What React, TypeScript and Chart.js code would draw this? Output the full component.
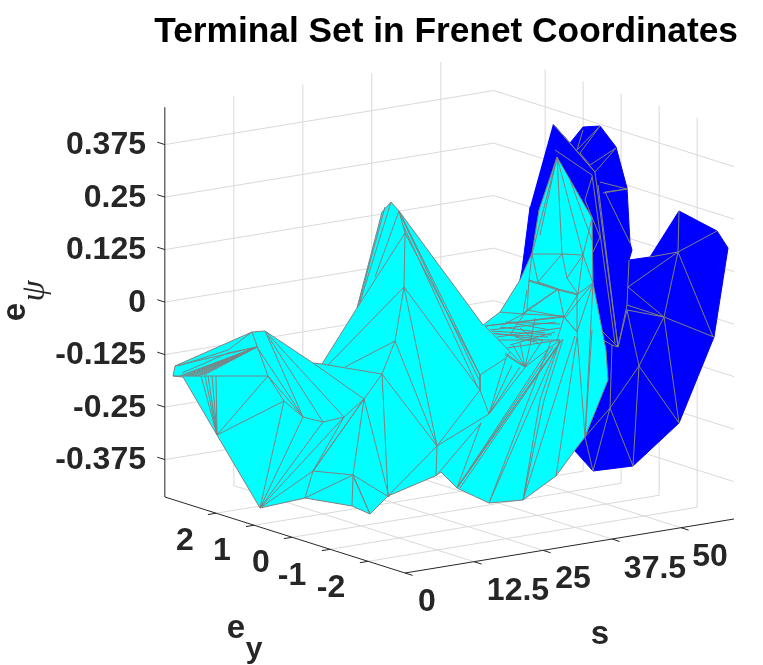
import React, { useEffect, useRef } from "react";
import { Chart, registerables } from "chart.js";

Chart.register(...registerables);

const TITLE = "Terminal Set in Frenet Coordinates";
const PSI_TICKS = [-0.375, -0.25, -0.125, 0, 0.125, 0.25, 0.375];
const S_TICKS = [0, 12.5, 25, 37.5, 50];
const EY_TICKS = [2, 1, 0, -1, -2];
const S_RANGE = [0, 59.6];
const EY_RANGE = [-2.97, 3.35];
const PSI_RANGE = [-0.464, 0.464];

// Mesh outlines and edges as [view column, view row] pairs.
const BLUE_OUTLINE = [553,124, 570,143, 583,127, 600,126, 616,147, 627,188, 630,243, 632,250, 629,260, 650,257, 679,211, 717,231, 728,248, 714,337, 679,423, 633,466, 593,471, 575,451, 540,380, 520,280, 522,270, 530,207];
const BLUE_EDGES = [
  [553,124, 595,172, 618,347], [570,143, 595,172], [555,150, 592,175, 615,343], [595,172, 616,148], [590,165, 616,148],
  [600,182, 627,189], [603,193, 627,189, 605,192, 630,243], [583,130, 577,150, 600,126, 580,153, 590,165], [592,177, 585,200],
  [600,237, 593,252], [600,237, 585,200], [598,185, 618,347],
  [628,287, 678,252, 650,257], [679,211, 678,252, 717,231], [678,252, 713,337], [678,252, 664,317, 628,287],
  [627,305, 664,317, 627,310, 618,347, 627,305, 629,260], [664,317, 714,337], [664,317, 639,366, 627,310], [664,317, 679,423], [639,366, 679,423],
  [639,366, 610,408, 585,437], [639,366, 633,466], [610,408, 633,466], [610,408, 593,471, 585,437], [610,408, 612,345, 618,347, 603,332], [603,340, 612,345],
];
const CYAN_OUTLINE = [173,376, 175,366, 252,332, 265,331, 313,363, 322,364, 357,308, 382,212, 391,202, 399,211, 483,325, 500,312, 520,280, 532,253, 539,210, 557,157, 592,218, 593,283, 606,350, 608,380, 585,437, 575,450, 556,476, 523,500, 489,503, 457,488, 441,472, 435,476, 402,490, 388,496, 370,514, 352,506, 305,498, 260,508, 217,435, 183,377, 173,376];
const CYAN_EDGES = [
  [173,376, 217,376, 268,376], [175,366, 257,347], [182,373, 228,353, 257,347], [178,366, 228,350, 252,332],
  [257,347, 180,376], [257,347, 183,376], [257,347, 186,376], [257,347, 189,376], [257,347, 192,376], [257,347, 195,376], [257,347, 198,376], [257,347, 201,375], [257,347, 204,375],
  [217,435, 201,376], [217,435, 205,376], [217,435, 208,376], [217,435, 212,376], [217,435, 216,376], [217,435, 268,376], [217,435, 284,401],
  [252,332, 268,376, 303,417], [257,347, 303,417], [265,331, 303,417], [268,336, 323,422], [265,331, 344,417],
  [268,376, 284,401, 303,417, 323,422, 344,417, 364,399, 313,363], [322,364, 382,374],
  [284,401, 260,508, 303,417], [323,422, 260,508, 344,417], [344,417, 313,471, 260,508], [364,399, 314,470], [364,399, 313,471, 353,475], [305,498, 313,471], [305,498, 353,475, 352,506],
  [353,475, 370,514], [354,478, 370,514], [353,475, 389,497], [364,399, 353,475], [364,399, 389,497], [364,399, 382,374],
  [382,374, 395,341, 404,287, 405,233, 399,211], [405,233, 357,308], [404,287, 328,365], [395,341, 345,367],
  [391,202, 360,302], [385,207, 358,306], [399,211, 375,277],
  [404,287, 480,390], [404,287, 437,446], [395,341, 437,446], [382,374, 437,446], [382,374, 388,496], [388,496, 437,446],
  [405,233, 480,375], [399,211, 480,375], [403,225, 478,388], [401,216, 479,380], [480,375, 480,390, 489,414], [437,446, 480,390], [437,446, 489,414], [436,476, 437,446], [436,476, 481,423], [457,488, 481,423],
  [489,414, 506,358], [480,375, 506,358], [489,414, 512,365], [489,414, 520,367], [489,414, 527,365],
  [457,488, 548,350], [457,488, 553,347], [457,488, 558,345], [457,488, 560,342], [460,488, 562,340], [489,503, 551,341], [489,503, 560,340], [523,500, 540,400, 560,340], [523,500, 544,400, 563,339], [523,500, 575,336], [556,476, 577,337], [585,437, 592,330],
  [485,326, 565,316], [485,326, 513,323], [485,326, 525,367], [493,333, 543,340], [498,340, 560,340], [497,337, 560,328], [513,323, 550,330], [523,314, 565,316], [523,314, 557,290], [523,314, 503,325], [525,367, 560,340], [525,367, 543,340], [525,367, 530,345], [525,367, 520,343], [525,367, 513,345], [525,367, 505,353], [507,348, 560,340], [510,352, 506,358], [505,355, 525,367],
  [490,330, 556,322], [492,331, 552,335], [495,334, 548,337], [500,327, 545,333], [505,322, 560,324], [510,345, 555,332], [515,337, 535,342], [520,328, 540,345], [535,318, 530,345],
  [527,290, 523,314], [500,312, 523,314], [527,310, 523,314],
  [557,157, 532,254], [557,157, 540,235], [557,157, 562,254], [557,157, 583,255], [592,218, 583,255], [570,180, 592,240],
  [532,254, 562,254, 583,255], [583,255, 567,278, 562,254, 538,282], [583,255, 578,294], [583,255, 593,283], [532,254, 529,280], [532,254, 538,282], [529,280, 558,289, 578,294], [529,281, 558,290, 578,295], [538,282, 558,289], [567,278, 578,294, 593,283],
  [558,289, 564,317], [578,294, 564,317], [593,283, 577,332], [529,280, 527,310], [558,289, 527,310, 564,317, 577,332], [527,310, 510,335], [564,317, 520,322], [564,317, 557,340], [577,332, 577,294], [593,283, 585,437], [577,332, 585,437], [565,318, 577,332], [565,318, 593,283],
];

const px = (row: number) => (302 - row) / 420;

function fromFlat(list: number[]) {
  const out: { x: number; y: number }[] = [];
  for (let i = 0; i < list.length; i += 2) out.push({ x: list[i], y: px(list[i + 1]) });
  return out;
}
function joinEdges(edges: number[][]) {
  const out: { x: number | null; y: number | null }[] = [];
  edges.forEach((e) => { out.push(...fromFlat(e), { x: null, y: null }); });
  return out;
}
// Orthographic view of the three axes.
function project(s: number, ey: number, psi: number) {
  const x = 405 + 5.52 * s - 38 * (ey - EY_RANGE[0]);
  const row = 573 - 0.906 * s - 12.03 * (ey - EY_RANGE[0]) - 420 * (psi - PSI_RANGE[0]);
  return { x, y: px(row) };
}
function seg(a: number[], b: number[]) {
  return [project(a[0], a[1], a[2]), project(b[0], b[1], b[2]), { x: null, y: null }];
}
function gridLines() {
  const [s0, s1] = S_RANGE; const [e0, e1] = EY_RANGE; const [p0, p1] = PSI_RANGE;
  const out: any[] = [];
  S_TICKS.slice(1).forEach((s) => {
    out.push(...seg([s, e0, p0], [s, e1, p0]), ...seg([s, e1, p0], [s, e1, p1]));
  });
  EY_TICKS.forEach((e) => {
    out.push(...seg([s0, e, p0], [s1, e, p0]), ...seg([s1, e, p0], [s1, e, p1]));
  });
  PSI_TICKS.forEach((p) => {
    out.push(...seg([s0, e1, p], [s1, e1, p]), ...seg([s1, e1, p], [s1, e0, p]));
  });
  return out;
}
function axisLines() {
  const [s0, s1] = S_RANGE; const [e0, e1] = EY_RANGE; const [p0, p1] = PSI_RANGE;
  const out: any[] = [];
  out.push(...seg([s0, e1, p0], [s0, e1, p1]), ...seg([s0, e1, p0], [s0, e0, p0]), ...seg([s0, e0, p0], [s1, e0, p0]));
  S_TICKS.forEach((s) => out.push(...seg([s, e0, p0], [s, e0 - 0.2, p0])));
  EY_TICKS.forEach((e) => out.push(...seg([s0, e, p0], [s0 - 1.5, e, p0])));
  PSI_TICKS.forEach((p) => out.push(...seg([s0, e1, p], [s0, e1 + 0.2, p])));
  return out;
}

const EY_LABELS = [["2", 185, 541], ["1", 222, 551], ["0", 261, 563], ["-1", 292, 576], ["-2", 331, 588]];
const S_LABELS = [["0", 427, 602], ["12.5", 518, 591], ["25", 573, 579], ["37.5", 655, 569], ["50", 710, 557]];

const textPlugin = {
  id: "axisText",
  afterDraw(chart: any) {
    const c = chart.ctx;
    c.save();
    c.fillStyle = "#262626";
    c.textAlign = "center";
    c.textBaseline = "middle";
    c.font = "bold 32px 'Liberation Sans'";
    [...EY_LABELS, ...S_LABELS].forEach(([t, x, y]: any) => c.fillText(t, x, y));
    c.font = "bold 33px 'Liberation Sans'";
    c.fillText("e", 236, 629);
    c.fillText("s", 600, 635);
    c.font = "bold 30px 'Liberation Sans'";
    c.fillText("y", 254, 650);
    c.translate(18, 312);
    c.rotate(-Math.PI / 2);
    c.font = "bold 33px 'Liberation Sans'";
    c.fillText("e", 0, -2);
    c.font = "italic 34px 'Liberation Serif'";
    c.fillText("\u03C8", 21, 17);
    c.restore();
  },
};

export default function App() {
  const ref = useRef<HTMLCanvasElement>(null);
  useEffect(() => {
    const line = (data: any[], color: string, width: number, order: number, extra: any = {}) => ({
      data, borderColor: color, borderWidth: width, pointRadius: 0, showLine: true, tension: 0,
      spanGaps: false, clip: false, order, fill: false, ...extra,
    });
    const chart = new Chart(ref.current!, {
      type: "scatter",
      data: {
        datasets: [
          line(gridLines(), "#d9d9d9", 1, 9),
          line(fromFlat(BLUE_OUTLINE), "#0000ff", 1, 8, { fill: "shape", backgroundColor: "#0000ff" }),
          line(joinEdges(BLUE_EDGES), "#808080", 1, 7),
          line(fromFlat(CYAN_OUTLINE), "#808080", 1, 6, { fill: "shape", backgroundColor: "#00ffff" }),
          line(joinEdges(CYAN_EDGES), "#808080", 1, 5),
          line(axisLines(), "#262626", 1, 4),
        ] as any,
      },
      options: {
        responsive: false,
        animation: false,
        events: [],
        layout: { padding: { left: 0, right: 25, top: 0, bottom: 45 } },
        plugins: {
          legend: { display: false },
          tooltip: { enabled: false },
          filler: { drawTime: "beforeDatasetDraw" },
          title: {
            display: true, text: TITLE, align: "end", color: "#000000",
            font: { family: "'Liberation Sans'", size: 35.3, weight: "bold" }, padding: { top: 11, bottom: 0 },
          },
        } as any,
        scales: {
          x: { type: "linear", display: false, min: 165, max: 738 },
          y: {
            type: "linear", min: (302 - 620) / 420, max: (302 - 53.36) / 420,
            grid: { display: false }, border: { display: false },
            afterBuildTicks: (s: any) => { s.ticks = PSI_TICKS.map((value) => ({ value })); },
            afterFit: (s: any) => { s.width = 165; },
            ticks: {
              color: "#262626", padding: 11, autoSkip: false, labelOffset: 1,
              font: { family: "'Liberation Sans'", size: 32, weight: "bold" },
              callback: (v: any) => String(v),
            },
          },
        },
      } as any,
      plugins: [textPlugin],
    });
    return () => chart.destroy();
  }, []);
  return (
    <canvas ref={ref} width={763} height={665}
      style={{ position: "absolute", left: 0, top: 0, display: "block", background: "#fff" }} />
  );
}
